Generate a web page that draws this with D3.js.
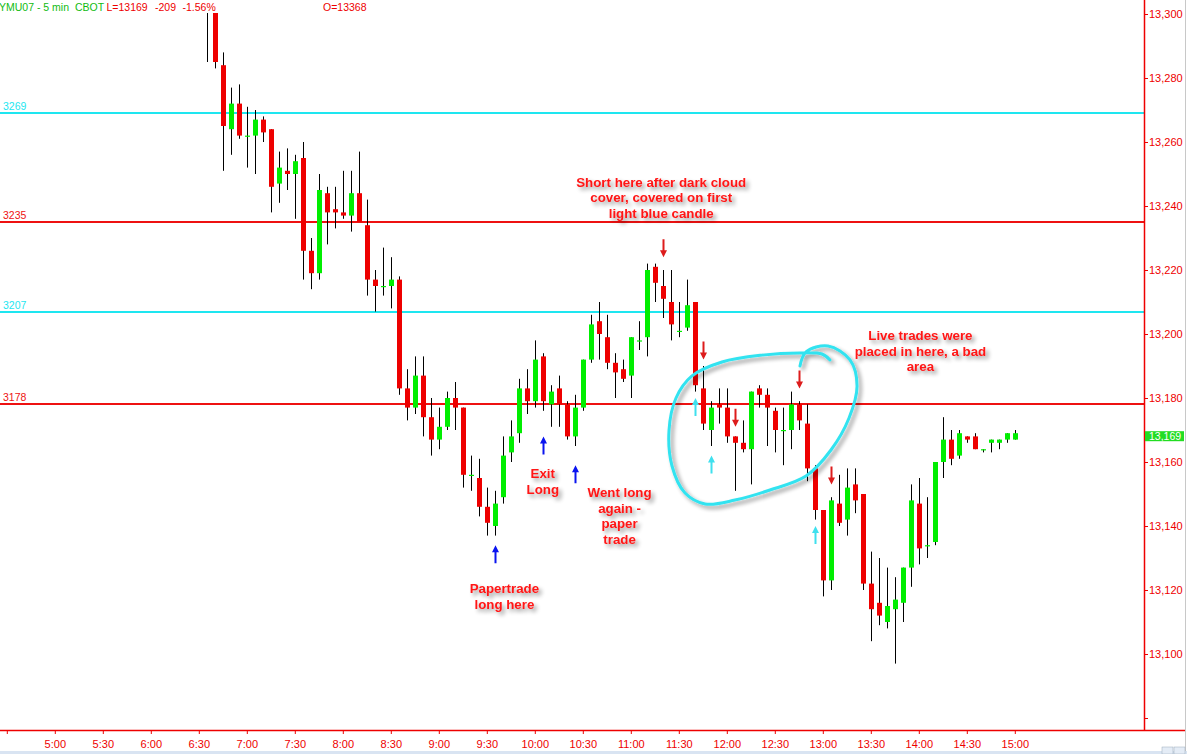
<!DOCTYPE html>
<html><head><meta charset="utf-8">
<script src="https://cdn.jsdelivr.net/npm/d3@7"></script>
<style>
html,body{margin:0;padding:0;background:#fff;overflow:hidden}
svg{display:block}
text{font-family:"Liberation Sans",Arial,sans-serif}
</style>
</head><body>
<svg id="chart" width="1187" height="754"></svg>
<script>
// ---------- DATA ----------
const times = [
 "6:35","6:40","6:45","6:50","6:55",
 "7:00","7:05","7:10","7:15","7:20","7:25","7:30","7:35","7:40","7:45","7:50","7:55",
 "8:00","8:05","8:10","8:15","8:20","8:25","8:30","8:35","8:40","8:45","8:50","8:55",
 "9:00","9:05","9:10","9:15","9:20","9:25","9:30","9:35","9:40","9:45","9:50","9:55",
 "10:00","10:05","10:10","10:15","10:20","10:25","10:30","10:35","10:40","10:45","10:50","10:55",
 "11:00","11:05","11:10","11:15","11:20","11:25","11:30","11:35","11:40","11:45","11:50","11:55",
 "12:00","12:05","12:10","12:15","12:20","12:25","12:30","12:35","12:40","12:45","12:50","12:55",
 "13:00","13:05","13:10","13:15","13:20","13:25","13:30","13:35","13:40","13:45","13:50","13:55",
 "14:00","14:05","14:10","14:15","14:20","14:25","14:30","14:35","14:40","14:45","14:50","14:55",
 "15:00"];
const opens = [
 13312,13306,13284,13264,13272,
 13262,13262,13267,13264,13247,13251,13250,13255,13226,13219,13244,13239,
 13238,13237,13244,13234,13217,13215,13215,13217,13183,13177,13187,13174,
 13167,13171,13180,13177,13156,13155,13146,13140,13149,13163,13169,13183,
 13179,13193,13178,13183,13178,13168,13177,13192,13204,13199,13191,13189,
 13187,13198,13199,13221,13215,13210,13201,13202,13210,13183,13170,13178,
 13177,13168,13166,13164,13183,13181,13176,13170,13170,13178,13172,13158,
 13145,13123,13147,13142,13153,13150,13122,13116,13110,13114,13116,13127,
 13147,13134,13135,13160,13167,13162,13168,13168,13164,13166,13166,13167,
 13167];
const highs = [
 13318,13310,13288,13277,13278,
 13271,13270,13268,13264,13257,13258,13256,13260,13230,13250,13246,13246,
 13251,13251,13257,13242,13220,13227,13224,13218,13189,13193,13193,13180,
 13177,13182,13185,13177,13162,13161,13152,13151,13168,13173,13186,13189,
 13198,13194,13184,13187,13179,13181,13192,13206,13210,13206,13194,13192,
 13199,13204,13222,13222,13220,13220,13210,13217,13210,13190,13179,13183,
 13183,13168,13173,13182,13184,13183,13177,13177,13182,13179,13178,13159,
 13145,13149,13156,13158,13158,13150,13132,13130,13127,13124,13127,13153,
 13155,13149,13160,13174,13170,13170,13168,13169,13164,13167,13167,13169,
 13170];
const lows = [
 13285,13283,13251,13256,13261,
 13252,13250,13260,13238,13241,13245,13236,13217,13214,13217,13228,13233,
 13236,13232,13235,13212,13207,13212,13208,13181,13173,13175,13168,13162,
 13164,13170,13170,13152,13151,13143,13137,13137,13147,13160,13166,13175,
 13177,13176,13171,13171,13167,13165,13176,13191,13192,13189,13180,13185,
 13180,13195,13193,13210,13205,13198,13199,13201,13182,13170,13165,13172,
 13166,13151,13163,13153,13177,13165,13163,13159,13164,13170,13154,13142,
 13118,13120,13140,13137,13144,13120,13104,13109,13108,13097,13110,13121,
 13128,13130,13134,13155,13159,13161,13166,13164,13163,13163,13164,13166,
 13167];
const closes = [
 13306,13285,13265,13272,13262,
 13262,13267,13263,13246,13252,13250,13254,13226,13219,13245,13238,13238,
 13237,13244,13235,13217,13215,13215,13217,13183,13177,13187,13174,13167,
 13171,13180,13177,13156,13156,13146,13141,13147,13162,13168,13183,13179,
 13192,13179,13182,13178,13168,13177,13192,13203,13200,13191,13188,13186,
 13199,13198,13220,13216,13211,13203,13201,13209,13184,13172,13177,13177,
 13168,13166,13164,13182,13181,13177,13170,13170,13178,13173,13158,13145,
 13123,13148,13141,13152,13148,13122,13114,13112,13115,13117,13127,13148,
 13133,13134,13160,13167,13161,13169,13167,13164,13164,13167,13167,13169,
 13169];

const xTickLabels = ["4:30","5:00","5:30","6:00","6:30","7:00","7:30","8:00","8:30","9:00","9:30",
 "10:00","10:30","11:00","11:30","12:00","12:30","13:00","13:30","14:00","14:30","15:00"];
const yTickValues = [13300,13280,13260,13240,13220,13200,13180,13160,13140,13120,13100,13080];

const levelValues = [13269, 13235, 13207, 13178];
const levelLabels = ["3269","3235","3207","3178"];
const levelKinds  = ["cyan","red","cyan","red"];

const symbolText = "YMU07 - 5 min";
const exchangeText = "CBOT";
const lastPrice = 13169, netChange = -209, pctChange = -1.56, openPrice = 13368;

const arrowTimes  = ["9:35","10:05","10:25","11:20","11:45","12:05","12:45","13:05","11:40","11:50","12:55"];
const arrowPrices = [13134,13168,13159,13224,13192,13171,13183,13153,13180,13162,13140];
const arrowKinds  = ["paper","paper","paper","short","short","short","short","short","cover","cover","cover"];

const noteLines = [
 ["Short here after dark cloud","cover, covered on first","light blue candle"],
 ["Live trades were","placed in here, a bad","area"],
 ["Exit","Long"],
 ["Went long","again -","paper","trade"],
 ["Papertrade","long here"]];
const noteTimes  = ["11:19","14:01","10:05","10:53","9:41"];
const notePrices = [13246,13198,13155,13149,13119];

// hand-drawn loop (minute of day, price)
const loopMinutes = [765.75,769.5,783.25,797,801.4,796.4,785.1,769.5,747,725.1,706.4,693.9,685.75,683.9,688.25,698.25,717,742,765.75,779.5,784.5];
const loopPrices  = [13190,13194.4,13196.25,13191.9,13183.75,13173.75,13163.75,13155.6,13151.25,13148.1,13146.9,13150.3,13158.75,13170,13180,13186.9,13191.25,13193.4,13194.1,13193.75,13191.9];

// ---------- LAYOUT / STYLE ----------
const W = 1187, H = 754;
const plotRight = 1144, plotBottom = 730, plotTop = 13;
const RED = "#ee0000", GREEN = "#00ee00", CYAN = "#1ee6f0";
const kindColor = {paper:"#0a14f0", short:"#dd1c1c", cover:"#3fe0ee"};
const levelColor = {cyan: CYAN, red: "#ee1111"};

const toMin = s => { const [h,m] = s.split(":").map(Number); return h*60+m; };

const x = d3.scaleLinear().domain([265.75, 980.75]).range([0, plotRight]);
const y = d3.scaleLinear().domain([13076.25, 13300]).range([plotBottom, 14]);

const svg = d3.select("#chart");
const defs = svg.append("defs");
defs.append("clipPath").attr("id","plotclip").append("rect")
  .attr("x",0).attr("y",plotTop).attr("width",plotRight).attr("height",plotBottom-plotTop);
const f = defs.append("filter").attr("id","shadow").attr("x","-30%").attr("y","-30%").attr("width","160%").attr("height","160%");
f.append("feGaussianBlur").attr("in","SourceAlpha").attr("stdDeviation",2).attr("result","b");
f.append("feOffset").attr("in","b").attr("dx",3).attr("dy",3).attr("result","o");
f.append("feComponentTransfer").attr("in","o").attr("result","s")
  .append("feFuncA").attr("type","linear").attr("slope",0.42);
const fm = f.append("feMerge");
fm.append("feMergeNode").attr("in","s");
fm.append("feMergeNode").attr("in","SourceGraphic");

svg.append("rect").attr("width",W).attr("height",H).attr("fill","#fff");

// ---------- LEVEL LINES ----------
const lv = svg.append("g");
levelValues.forEach((v,i) => {
  lv.append("line").attr("x1",0).attr("x2",plotRight)
    .attr("y1",Math.round(y(v))).attr("y2",Math.round(y(v)))
    .attr("stroke",levelColor[levelKinds[i]]).attr("stroke-width",2);
  lv.append("text").attr("x",3).attr("y",Math.round(y(v))-3)
    .attr("font-size","10.5px").attr("fill",levelColor[levelKinds[i]]).text(levelLabels[i]);
});

// ---------- CANDLES ----------
const candles = svg.append("g").attr("clip-path","url(#plotclip)");
const bodyW = 5;
times.forEach((t,i) => {
  const cx = Math.round(x(toMin(t)));
  const o = opens[i], c = closes[i], hi = highs[i], lo = lows[i];
  const up = c >= o;
  candles.append("line").attr("x1",cx+0.5).attr("x2",cx+0.5)
    .attr("y1",y(hi)).attr("y2",y(lo)).attr("stroke","#000").attr("stroke-width",1);
  const top = y(Math.max(o,c)), bot = y(Math.min(o,c));
  candles.append("rect").attr("x",cx-2).attr("width",bodyW)
    .attr("y",top).attr("height",Math.max(1.2, bot-top))
    .attr("fill", up ? GREEN : RED);
});

// ---------- AXES ----------
const yAxis = d3.axisRight(y).tickValues(yTickValues).tickSize(4).tickPadding(1)
  .tickFormat(d => d === 13080 ? "" : d3.format(",")(d));
const gy = svg.append("g").attr("transform",`translate(${plotRight},0)`).call(yAxis);
gy.select(".domain").remove();
gy.selectAll("line").attr("stroke",RED);
gy.selectAll("text").attr("fill",RED).attr("font-size","11px").attr("font-family","Liberation Sans, Arial, sans-serif");

const xAxis = d3.axisBottom(x).tickValues(xTickLabels.map(toMin)).tickSize(4).tickPadding(6)
  .tickFormat(m => m === 270 ? "" : `${Math.floor(m/60)}:${String(m%60).padStart(2,"0")}`);
const gx = svg.append("g").attr("transform",`translate(0,${plotBottom})`).call(xAxis);
gx.select(".domain").remove();
gx.selectAll("line").attr("stroke",RED);
gx.selectAll("text").attr("fill",RED).attr("font-size","11px").attr("font-family","Liberation Sans, Arial, sans-serif");

svg.append("line").attr("x1",plotRight+0.5).attr("x2",plotRight+0.5).attr("y1",0).attr("y2",plotBottom+1)
  .attr("stroke",RED).attr("stroke-width",1.5);
svg.append("line").attr("x1",0).attr("x2",1185).attr("y1",plotBottom+0.5).attr("y2",plotBottom+0.5)
  .attr("stroke",RED).attr("stroke-width",1.5);
svg.append("line").attr("x1",1185.5).attr("x2",1185.5).attr("y1",0).attr("y2",H)
  .attr("stroke","#c8c8c8");
svg.append("rect").attr("x",0).attr("y",751).attr("width",W).attr("height",3).attr("fill","#d9e4f2");
svg.append("rect").attr("x",1162).attr("y",747).attr("width",11).attr("height",7).attr("fill","#e4ecf6").attr("stroke","#9aaabb").attr("stroke-width",0.5);
svg.append("rect").attr("x",1174).attr("y",747).attr("width",11).attr("height",7).attr("fill","#e4ecf6").attr("stroke","#9aaabb").attr("stroke-width",0.5);

// last price box
const ly = y(lastPrice);
svg.append("rect").attr("x",plotRight+1).attr("y",ly-2).attr("width",39).attr("height",10).attr("fill","#22dd22");
svg.append("text").attr("x",plotRight+5).attr("y",ly+7).attr("font-size","10.5px").attr("fill","#fff")
  .text(d3.format(",")(lastPrice));

// ---------- HEADER ----------
const hdr = svg.append("g").attr("font-size","10.5px");
hdr.append("text").attr("x",-1).attr("y",10.5).attr("fill","#11bb11").text(symbolText);
hdr.append("text").attr("x",75).attr("y",10.5).attr("fill","#11bb11").text(exchangeText);
hdr.append("text").attr("x",106.5).attr("y",10.5).attr("fill",RED).text("L=" + lastPrice);
hdr.append("text").attr("x",155).attr("y",10.5).attr("fill",RED).text(String(netChange));
hdr.append("text").attr("x",182.5).attr("y",10.5).attr("fill",RED).text(pctChange.toFixed(2) + "%");
hdr.append("text").attr("x",323).attr("y",10.5).attr("fill",RED).text("O=" + openPrice);

// ---------- LOOP ----------
const loopLine = d3.line().x(d => x(d[0])).y(d => y(d[1])).curve(d3.curveCatmullRom.alpha(0.5));
svg.append("path").datum(loopMinutes.map((m,i) => [m, loopPrices[i]]))
  .attr("d", loopLine).attr("fill","none").attr("stroke","#33e3f0").attr("stroke-width",3)
  .attr("stroke-linecap","round").attr("filter","url(#shadow)");

// ---------- ARROWS ----------
const ag = svg.append("g");
arrowTimes.forEach((t,i) => {
  const ax = Math.round(x(toMin(t))) + 0.5;
  const tip = y(arrowPrices[i]);
  const dir = arrowKinds[i] === "short" ? -1 : 1; // 1 = up arrow (tip at top)
  const L = 18, hh = 7, hw = 3.5, sw = 1;
  const p = dir === 1
    ? `M${ax},${tip} L${ax+hw},${tip+hh} L${ax+sw},${tip+hh} L${ax+sw},${tip+L} L${ax-sw},${tip+L} L${ax-sw},${tip+hh} L${ax-hw},${tip+hh} Z`
    : `M${ax},${tip} L${ax+hw},${tip-hh} L${ax+sw},${tip-hh} L${ax+sw},${tip-L} L${ax-sw},${tip-L} L${ax-sw},${tip-hh} L${ax-hw},${tip-hh} Z`;
  ag.append("path").attr("d",p).attr("fill",kindColor[arrowKinds[i]]);
});

// ---------- NOTES ----------
const ng = svg.append("g").attr("filter","url(#shadow)");
noteLines.forEach((lines,i) => {
  const t = ng.append("text").attr("text-anchor","middle")
    .attr("font-size","13.3px").attr("font-weight","bold").attr("fill","#ff1515");
  lines.forEach((s,j) => {
    t.append("tspan").attr("x",x(toMin(noteTimes[i]))).attr("y",y(notePrices[i]) + j*15.5).text(s);
  });
});
</script>
</body></html>
